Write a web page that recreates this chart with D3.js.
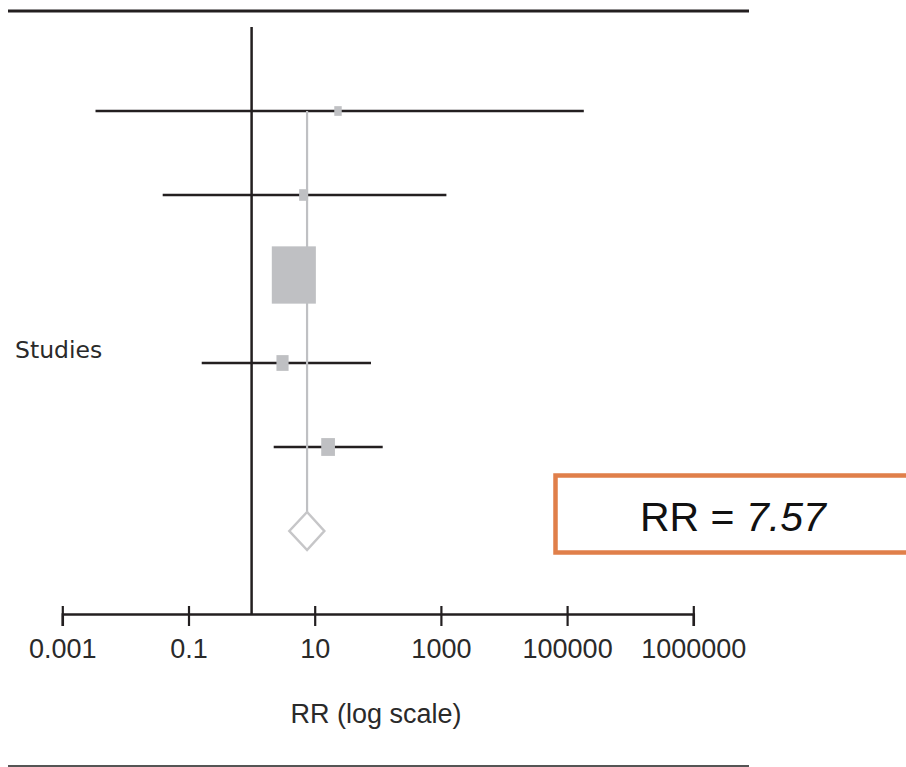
<!DOCTYPE html>
<html>
<head>
<meta charset="utf-8">
<script src="https://cdn.jsdelivr.net/npm/d3@7"></script>
<style>
  html, body { margin: 0; padding: 0; background: #fff; }
  svg { display: block; }
</style>
</head>
<body>
<div id="container"></div>
<script>
// study rows (RR with 95% CI)
const rows = ["s1", "s2", "s3", "s4", "s5", "pooled"];
const studyRR = [23.4, 6.67, 4.67, 3.09, 16.3];
const studyLower = [0.00336, 0.039, 3.2, 0.162, 2.24];
const studyUpper = [184000, 1222, 6.8, 78, 119.6];
const studyWeight = [2.3, 3.3, 80.5, 6.1, 7.8];   // % weight -> box area

const pooledRR = 7.57;
const pooledLower = 3.96;
const pooledUpper = 14.2;

const tickValues = [1e-3, 1e-1, 1e1, 1e3, 1e5, 1e7];
const tickLabels = ["0.001", "0.1", "10", "1000", "100000", "1000000"];

const width = 906, height = 767;

const svg = d3.select("#container")
  .append("svg")
  .attr("width", width)
  .attr("height", height)
  .attr("viewBox", [0, 0, width, height]);

const x = d3.scaleLog()
  .domain([1e-3, 1e7])
  .range([62.3, 693.3]);

const y = d3.scalePoint()
  .domain(rows)
  .range([111, 531]);

const axisY = 614;

// box side from weight (area proportional), boxes a bit taller than wide
const side = d3.scaleSqrt().domain([0, 100]).range([0, 56]);
const aspect = 1.3;

const dark = "#231f20";
const grey = "#bfc0c3";

// top and bottom rules
svg.append("line")
  .attr("x1", 8).attr("x2", 749).attr("y1", 11).attr("y2", 11)
  .attr("stroke", dark).attr("stroke-width", 3.2);
svg.append("line")
  .attr("x1", 8).attr("x2", 749).attr("y1", 766).attr("y2", 766)
  .attr("stroke", "#555").attr("stroke-width", 2);

// line of no effect (RR = 1)
svg.append("line")
  .attr("x1", x(1)).attr("x2", x(1))
  .attr("y1", 27).attr("y2", axisY)
  .attr("stroke", dark).attr("stroke-width", 2.5);

const studies = studyRR.map((rr, i) => ({
  row: rows[i], rr, lo: studyLower[i], hi: studyUpper[i], w: studyWeight[i]
}));

// confidence intervals
svg.append("g")
  .selectAll("line")
  .data(studies)
  .join("line")
  .attr("x1", d => x(d.lo))
  .attr("x2", d => x(d.hi))
  .attr("y1", d => y(d.row))
  .attr("y2", d => y(d.row))
  .attr("stroke", dark)
  .attr("stroke-width", 2.5);

// pooled estimate line
const dh = 19;
svg.append("line")
  .attr("x1", x(pooledRR)).attr("x2", x(pooledRR))
  .attr("y1", y("s1")).attr("y2", y("pooled") - dh)
  .attr("stroke", grey).attr("stroke-width", 2.2);

// study boxes
svg.append("g")
  .selectAll("rect")
  .data(studies)
  .join("rect")
  .attr("x", d => x(d.rr) - side(d.w) / Math.sqrt(aspect) / 2)
  .attr("y", d => y(d.row) - side(d.w) * Math.sqrt(aspect) / 2 - (d.w > 50 ? 4 : 0))
  .attr("width", d => side(d.w) / Math.sqrt(aspect))
  .attr("height", d => side(d.w) * Math.sqrt(aspect))
  .attr("fill", grey);

// pooled diamond
const py = y("pooled");
svg.append("path")
  .attr("d", d3.line()([
    [x(pooledLower), py],
    [x(pooledRR), py - dh],
    [x(pooledUpper), py],
    [x(pooledRR), py + dh]
  ]) + "Z")
  .attr("fill", "#fff")
  .attr("stroke", "#c6c6c8")
  .attr("stroke-width", 2.5);

// axis
const axis = svg.append("g")
  .attr("transform", `translate(0,${axisY})`)
  .call(d3.axisBottom(x)
    .tickValues(tickValues)
    .tickFormat((d, i) => tickLabels[i])
    .tickSizeOuter(0)
    .tickSize(12));

axis.select(".domain").attr("stroke", dark).attr("stroke-width", 2.5);
axis.selectAll(".tick line")
  .attr("y1", -8).attr("y2", 12)
  .attr("stroke", dark).attr("stroke-width", 2.2);
axis.selectAll(".tick text")
  .attr("y", 44).attr("dy", 0)
  .attr("fill", "#2a2a2a")
  .style("font-family", "'Liberation Sans', Arial, sans-serif")
  .style("font-size", "27px");

svg.append("text")
  .attr("x", 376).attr("y", 723)
  .attr("text-anchor", "middle")
  .attr("fill", "#2a2a2a")
  .style("font-family", "'Liberation Sans', Arial, sans-serif")
  .style("font-size", "27px")
  .text("RR (log scale)");

svg.append("text")
  .attr("x", 15).attr("y", 358)
  .attr("fill", "#2a2a2a")
  .style("font-family", "'DejaVu Sans', sans-serif")
  .style("font-size", "23.5px")
  .text("Studies");

// highlighted pooled result
svg.append("rect")
  .attr("x", 555.5).attr("y", 475.5)
  .attr("width", 420).attr("height", 77)
  .attr("fill", "#fff")
  .attr("stroke", "#e07f4a")
  .attr("stroke-width", 4.5);

const rr = svg.append("text")
  .attr("x", 640).attr("y", 531)
  .attr("fill", "#111")
  .style("font-family", "'Liberation Sans', Arial, sans-serif")
  .style("font-size", "41px");
rr.append("tspan").text("RR = ");
rr.append("tspan").style("font-style", "italic").text("7.57");
</script>
</body>
</html>
